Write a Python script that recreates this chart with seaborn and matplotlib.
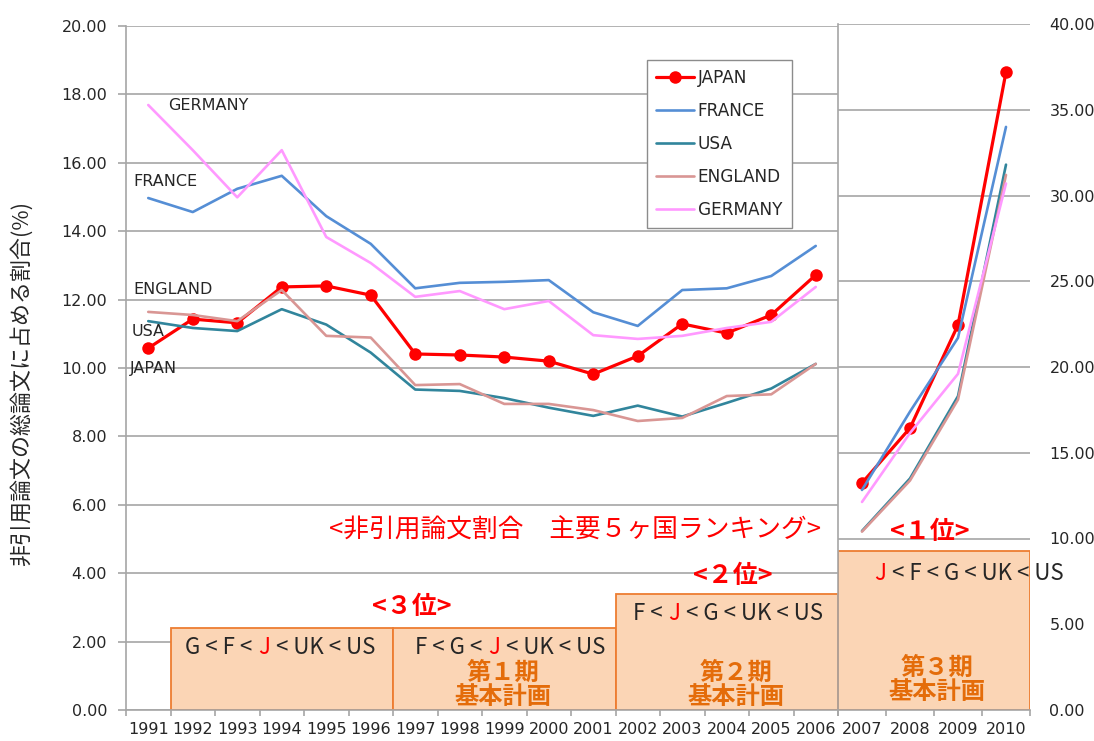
import pandas as pd
import seaborn as sns
import matplotlib.pyplot as plt
from matplotlib.lines import Line2D

sns.set_theme(style='white')
plt.rcParams['font.family'] = ['DejaVu Sans', 'Noto Sans CJK JP']
CJK = ['Noto Sans CJK JP', 'DejaVu Sans']

# %%
# data

years_a = ['1991', '1992', '1993', '1994', '1995', '1996', '1997', '1998',
           '1999', '2000', '2001', '2002', '2003', '2004', '2005', '2006']
years_b = ['2007', '2008', '2009', '2010']
countries = ['JAPAN', 'FRANCE', 'USA', 'ENGLAND', 'GERMANY']

japan_a = [10.58, 11.43, 11.32, 12.37, 12.40, 12.13, 10.41, 10.38,
           10.32, 10.20, 9.82, 10.35, 11.29, 11.02, 11.55, 12.72]
france_a = [14.97, 14.56, 15.24, 15.62, 14.44, 13.63, 12.33, 12.49,
            12.52, 12.57, 11.63, 11.23, 12.28, 12.33, 12.69, 13.57]
usa_a = [11.37, 11.17, 11.08, 11.72, 11.27, 10.45, 9.37, 9.33,
         9.12, 8.84, 8.60, 8.90, 8.58, 8.98, 9.40, 10.12]
england_a = [11.64, 11.55, 11.37, 12.28, 10.94, 10.89, 9.50, 9.53,
             8.95, 8.95, 8.77, 8.45, 8.54, 9.18, 9.23, 10.12]
germany_a = [17.69, 16.37, 14.99, 16.37, 13.83, 13.07, 12.08, 12.25,
             11.72, 11.96, 10.96, 10.85, 10.94, 11.17, 11.35, 12.37]

japan_b = [13.24, 16.44, 22.45, 37.20]
france_b = [12.83, 17.40, 21.70, 34.00]
usa_b = [10.44, 13.50, 18.30, 31.80]
england_b = [10.40, 13.38, 18.10, 31.20]
germany_b = [12.13, 16.15, 19.60, 30.70]

# basic plan periods (boxes) and the ranking shown inside each
period_start = ['1992', '1997', '2002']
period_end = ['1996', '2001', '2006']
period_height = [2.40, 2.40, 3.39]
period3_height = 9.27

colors = {
    'JAPAN': '#FF0000',
    'FRANCE': '#558ED5',
    'USA': '#31859C',
    'ENGLAND': '#D99694',
    'GERMANY': '#FF99FF',
}


def to_long(years, series):
    rows = []
    for c, vals in series.items():
        for i, (yr, v) in enumerate(zip(years, vals)):
            rows.append({'pos': i, 'year': yr, 'country': c, 'value': v})
    return pd.DataFrame(rows)


df_a = to_long(years_a, dict(zip(countries, [japan_a, france_a, usa_a, england_a, germany_a])))
df_b = to_long(years_b, dict(zip(countries, [japan_b, france_b, usa_b, england_b, germany_b])))

# %%
W, H = 1094, 741
fig = plt.figure(figsize=(W / 100, H / 100), dpi=100)


def fx(x):
    return x / W


def fy(y):
    return 1 - y / H


ax1 = fig.add_axes([fx(126), fy(710), (838 - 126) / W, 684 / H])
ax2 = fig.add_axes([fx(838), fy(710), (1030 - 838) / W, 686 / H])

grid_col = '#A6A6A6'
text_col = '#262626'

for ax, df in [(ax1, df_a), (ax2, df_b)]:
    for c in countries:
        kws = dict(marker='o', markersize=9, markeredgewidth=0) if c == 'JAPAN' else {}
        sns.lineplot(data=df[df['country'] == c], x='pos', y='value', color=colors[c],
                     lw=2.3 if c == 'JAPAN' else 1.9, ax=ax, legend=False, zorder=3, **kws)
    ax.set_axisbelow(True)
    ax.grid(axis='y', color=grid_col, lw=1.2)
    ax.grid(axis='x', visible=False)
    ax.set_xlabel('')
    ax.set_ylabel('')
    for s in ['top', 'right']:
        ax.spines[s].set_visible(False)
    for s in ['left', 'bottom']:
        ax.spines[s].set_color(grid_col)
        ax.spines[s].set_linewidth(1.2)

# left chart axes
ax1.set_xlim(-0.5, len(years_a) - 0.5)
ax1.set_ylim(0, 20)
ax1.set_yticks(range(0, 21, 2))
ax1.set_yticklabels([f'{v:.2f}' for v in range(0, 21, 2)])
ax1.set_xticks(range(len(years_a)))
ax1.set_xticklabels(years_a)
ax1.set_xticks([i - 0.5 for i in range(len(years_a) + 1)], minor=True)
ax1.tick_params(axis='y', length=6, width=1.2, color=grid_col, pad=7.5,
                labelsize=11.5, labelcolor=text_col, left=True)
ax1.tick_params(axis='x', which='major', length=0, pad=9, labelsize=11.5, labelcolor=text_col)
ax1.tick_params(axis='x', which='minor', length=4, width=1.2, color=grid_col, bottom=True)

# right chart axes
ax2.set_xlim(-0.5, len(years_b) - 0.5)
ax2.set_ylim(0, 40)
ax2.yaxis.tick_right()
ax2.set_yticks(range(0, 41, 5))
ax2.set_yticklabels([f'{v:.2f}' for v in range(0, 41, 5)])
ax2.set_xticks(range(len(years_b)))
ax2.set_xticklabels(years_b)
ax2.set_xticks([i - 0.5 for i in range(len(years_b) + 1)], minor=True)
ax2.tick_params(axis='y', length=0, pad=14, labelsize=11.5, labelcolor=text_col)
ax2.tick_params(axis='x', which='major', length=0, pad=9, labelsize=11.5, labelcolor=text_col)
ax2.tick_params(axis='x', which='minor', length=4, width=1.2, color=grid_col, bottom=True)

# period boxes
box_face = '#FBD5B5'
box_edge = '#ED7D31'
starts = [years_a.index(y) - 0.5 for y in period_start]
widths = [years_a.index(e) - years_a.index(s) + 1 for s, e in zip(period_start, period_end)]
ax1.bar(starts, period_height, width=widths, align='edge', color=box_face,
        edgecolor=box_edge, linewidth=1.3, zorder=1.5)
ax2.bar([-0.5], [period3_height], width=len(years_b), align='edge', color=box_face,
        edgecolor=box_edge, linewidth=1.3, zorder=1.5)

# line labels on the left chart
for name, x, y in [('GERMANY', 168, 105), ('FRANCE', 133, 182), ('ENGLAND', 133, 289),
                   ('USA', 132, 331), ('JAPAN', 130, 368)]:
    fig.text(fx(x), fy(y), name, ha='left', va='center', fontsize=11.5, color=text_col)

# legend
handles = [Line2D([], [], color=colors[c], lw=2.3 if c == 'JAPAN' else 1.9,
                  marker='o' if c == 'JAPAN' else None, markersize=9, markeredgewidth=0)
           for c in countries]
leg = ax1.legend(handles, countries, loc='upper left', bbox_to_anchor=(fx(647), fy(60)),
                 bbox_transform=fig.transFigure, borderaxespad=0, fontsize=12.2,
                 frameon=True, fancybox=False, framealpha=1, edgecolor='#8C8C8C',
                 handlelength=2.2, handletextpad=0.25, labelspacing=0.88, borderpad=0.55)
leg.get_frame().set_linewidth(1.0)
for t in leg.get_texts():
    t.set_color(text_col)

# y label
fig.text(fx(22), fy(383), '非引用論文の総論文に占める割合(%)', rotation=90, ha='center',
         va='center', fontsize=15.8, family=CJK, color=text_col)

# red titles
red = '#FF0000'
fig.text(fx(575), fy(531), '<非引用論文割合　主要５ヶ国ランキング>', ha='center', va='center',
         fontsize=18.5, family=CJK, color=red)
for label, x, y in [('<３位>', 412, 607), ('<２位>', 733, 576), ('<１位>', 930, 532)]:
    fig.text(fx(x), fy(y), label, ha='center', va='center', fontsize=18,
             family=CJK, color=red, fontweight='bold')

# rankings inside the boxes, J in red
renderer = fig.canvas.get_renderer()


def ranking_text(cx, cy, parts, gap=6):
    items = [fig.text(0, fy(cy), s, color=c, fontsize=16, family=CJK, ha='left', va='center')
             for s, c in parts]
    ws = [t.get_window_extent(renderer).width for t in items]
    x = cx - (sum(ws) + gap * (len(items) - 1)) / 2
    for t, w in zip(items, ws):
        t.set_x(fx(x))
        x += w + gap


ranking_text(280, 647, [('G < F <', text_col), ('J', red), ('< UK < US', text_col)])
ranking_text(510, 647, [('F < G <', text_col), ('J', red), ('< UK < US', text_col)])
ranking_text(728, 614, [('F <', text_col), ('J', red), ('< G < UK < US', text_col)])
ranking_text(969, 573, [('J', red), ('< F < G < UK < US', text_col)])

# basic plan period labels
orange = '#E46C0A'
for n, x, y in [('１', 503, 673), ('２', 736, 673), ('３', 937, 668)]:
    fig.text(fx(x), fy(y), f'第{n}期', ha='center', va='center', fontsize=17.5,
             family=CJK, color=orange, fontweight='bold')
    fig.text(fx(x), fy(y + 24), '基本計画', ha='center', va='center', fontsize=17.5,
             family=CJK, color=orange, fontweight='bold')

fig.savefig('out.png', dpi=100)
